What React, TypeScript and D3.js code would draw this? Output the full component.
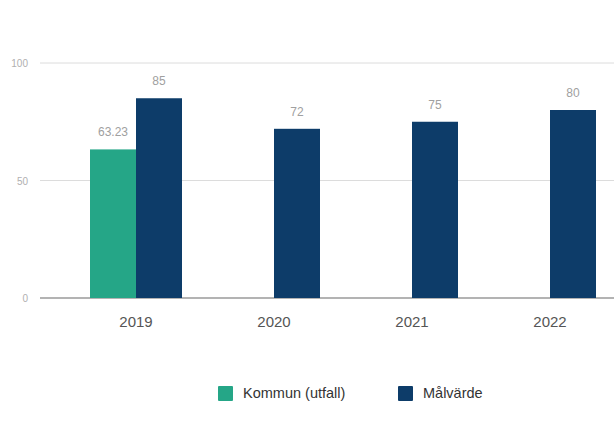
import React from "react";
import * as d3 from "d3";

const years = ["2019", "2020", "2021", "2022"];
const seriesNames = ["Kommun (utfall)", "Målvärde"];
const kommunValues: (number | null)[] = [63.23, null, null, null];
const malvardeValues: (number | null)[] = [85, 72, 75, 80];
const valueLabels = [["63.23", "", "", ""], ["85", "72", "75", "80"]];
const yTicks = [0, 50, 100];
const colors = ["#25a687", "#0d3c69"];

const W = 614;
const H = 430;

export default function App() {
  const x = d3.scaleBand<string>().domain(years).range([67, 619]).padding(0);
  const inner = d3.scaleBand<string>().domain(seriesNames).range([23, 115]).padding(0);
  const y = d3.scaleLinear().domain([0, 100]).range([298, 63]);
  const series = [kommunValues, malvardeValues];
  const font = "'Liberation Sans', Arial, sans-serif";

  return (
    <svg width={W} height={H} style={{ position: "absolute", left: 0, top: 0, background: "#fff" }} fontFamily={font}>
      {yTicks.map((t) => (
        <g key={t}>
          <line x1={40} x2={W} y1={y(t)} y2={y(t)} stroke={t === 0 ? "#9a9a9a" : "#dcdcdc"} strokeWidth={t === 0 ? 1.5 : 1} />
          <text x={28} y={y(t) + 4} textAnchor="end" fontSize={10} fill="#b0b0b0">{t}</text>
        </g>
      ))}
      {series.map((vals, si) =>
        vals.map((v, i) =>
          v == null ? null : (
            <g key={`${si}-${i}`}>
              <rect
                x={(x(years[i]) as number) + (inner(seriesNames[si]) as number)}
                y={y(v)}
                width={inner.bandwidth()}
                height={y(0) - y(v)}
                fill={colors[si]}
              />
              <text
                x={(x(years[i]) as number) + (inner(seriesNames[si]) as number) + inner.bandwidth() / 2}
                y={y(v) - 13}
                textAnchor="middle"
                fontSize={12}
                fill="#a0a0a0"
              >
                {valueLabels[si][i]}
              </text>
            </g>
          )
        )
      )}
      {years.map((yr) => (
        <text key={yr} x={(x(yr) as number) + x.bandwidth() / 2} y={327} textAnchor="middle" fontSize={15} fill="#555">
          {yr}
        </text>
      ))}
      {seriesNames.map((s, i) => {
        const lx = i === 0 ? 218 : 398;
        return (
          <g key={s}>
            <rect x={lx} y={386} width={15} height={15} fill={colors[i]} rx={1} />
            <text x={lx + 25} y={398} fontSize={14.5} fill="#333">{s}</text>
          </g>
        );
      })}
    </svg>
  );
}
